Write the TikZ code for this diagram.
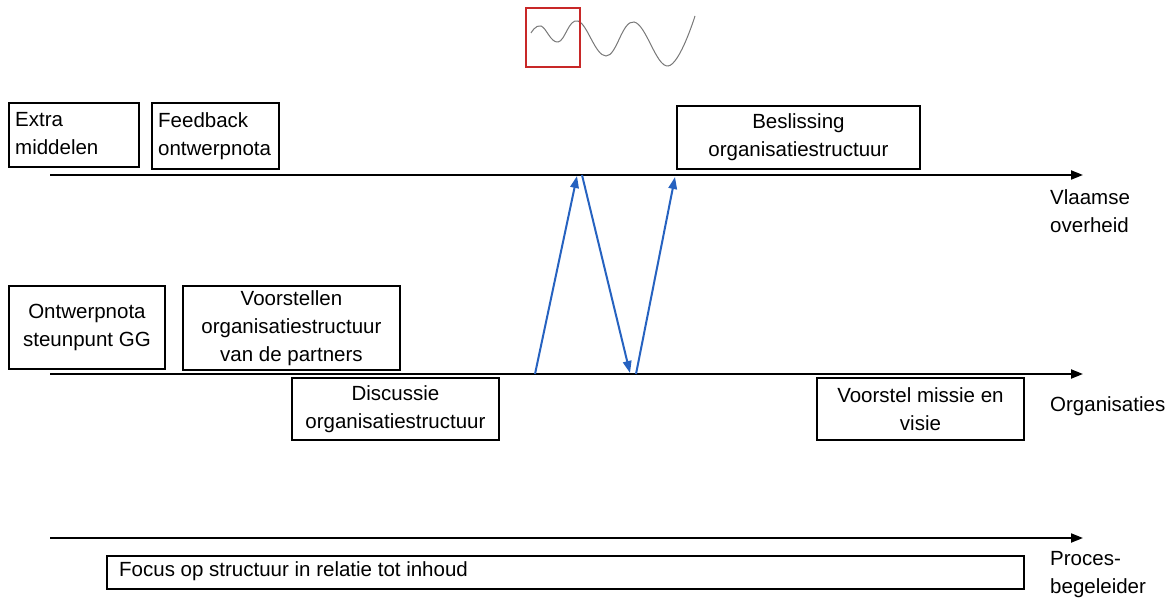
\documentclass[tikz,border=0pt]{standalone}
\usepackage{fontspec}
\setmainfont{Liberation Sans}
\usetikzlibrary{arrows.meta}
\definecolor{flowblue}{RGB}{38,98,192}
\definecolor{wavegray}{RGB}{120,120,120}
\definecolor{markred}{RGB}{200,40,40}
\begin{document}
\begin{tikzpicture}[x=1pt,y=-1pt,
  every node/.style={font=\fontsize{20.5}{28}\selectfont},
  box/.style={draw=black,line width=1.9pt,inner sep=0pt,align=center},
  lbox/.style={draw=black,line width=1.9pt,inner sep=0pt,align=left},
  timeline/.style={line width=2pt,-{Triangle[length=12pt,width=9pt]}},
  flow/.style={flowblue,line width=2pt,-{Triangle[length=12pt,width=8.5pt]}},
  lane/.style={anchor=north west,align=left,inner sep=0pt}]
\useasboundingbox (0,0) rectangle (1172,601);

% wave with highlighted window
\draw[wavegray,line width=1pt] plot[smooth,tension=0.7] coordinates
  {(531,33) (541,26) (558,42) (578,21) (606,56) (634,22) (668,66) (695,16)};
\node[draw=markred,line width=1.6pt,minimum width=54pt,minimum height=59pt,inner sep=0pt,anchor=north west] (win) at (525,7) {};

% time lines
\coordinate (v0) at (50,175);  \coordinate (v1) at (1083,175);
\coordinate (o0) at (50,374);  \coordinate (o1) at (1083,374);
\coordinate (p0) at (50,538);  \coordinate (p1) at (1083,538);
\draw[timeline] (v0) -- (v1);
\draw[timeline] (o0) -- (o1);
\draw[timeline] (p0) -- (p1);

% lane labels
\node[lane] (lv) at (1050,189) {Vlaamse\\overheid};
\node[lane] (lo) at (1050,396) {Organisaties};
\node[lane] (lp) at (1050,551) {Proces-\\begeleider};

% boxes on the government line
\node[lbox,minimum width=130pt,minimum height=64pt,anchor=north west] (extra) at (8,102) {};
\node[lane] (extrat) at (15,112) {Extra\\middelen};
\node[lbox,minimum width=127pt,minimum height=66pt,anchor=north west] (feed) at (151,102) {};
\node[lane] (feedt) at (158,112) {Feedback\\ontwerpnota};
\node[box,minimum width=243pt,minimum height=63pt,anchor=north west] (besl) at (676,105) {Beslissing\\organisatiestructuur};

% boxes on the organisations line
\node[box,minimum width=156pt,minimum height=83pt,anchor=north west] (ontw) at (8,285) {Ontwerpnota\\steunpunt GG};
\node[box,minimum width=217pt,minimum height=84pt,anchor=north west] (voor) at (182,285) {Voorstellen\\organisatiestructuur\\van de partners};
\node[box,minimum width=207pt,minimum height=62pt,anchor=north west] (disc) at (291,377) {Discussie\\organisatiestructuur};
\node[box,minimum width=207pt,minimum height=62pt,anchor=north west] (miss) at (816,377) {Voorstel missie en\\visie};

% box on the facilitator line
\node[lbox,minimum width=917pt,minimum height=33pt,anchor=north west] (focus) at (106,555) {};
\node[anchor=west,inner sep=0pt] (focust) at (119,571.5) {Focus op structuur in relatie tot inhoud};

% exchanges between organisations and government
\coordinate (a0) at (535,374); \coordinate (a1) at (577,176);
\coordinate (b0) at (582,175); \coordinate (b1) at (630,373);
\coordinate (c0) at (636,374); \coordinate (c1) at (675,177);
\draw[flow] (a0) -- (a1);
\draw[flow] (b0) -- (b1);
\draw[flow] (c0) -- (c1);
\end{tikzpicture}
\end{document}
